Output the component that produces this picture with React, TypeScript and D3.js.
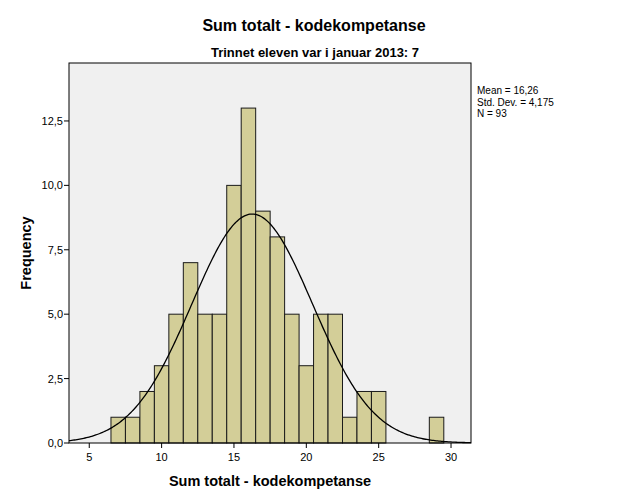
import React from "react";
import * as d3 from "d3";

const binCenters = [7, 8, 9, 10, 11, 12, 13, 14, 15, 16, 17, 18, 19, 20, 21, 22, 23, 24, 25, 29];
const binCounts = [1, 1, 2, 3, 5, 7, 5, 5, 10, 13, 9, 8, 5, 3, 5, 5, 1, 2, 2, 1];
const xTicks = [5, 10, 15, 20, 25, 30];
const yTicks = [0, 2.5, 5, 7.5, 10, 12.5];
const statLines = ["Mean = 16,26", "Std. Dev. = 4,175", "N = 93"];
const mean = 16.26;
const sd = 4.175;
const n = 93;
const binWidth = 1;

const W = 629;
const H = 504;
const left = 69;
const right = 471;
const top = 63;
const bottom = 443;
const font = "'Liberation Sans', Arial, sans-serif";

export default function App() {
  const x = d3.scaleLinear().domain([3.6, 31.38]).range([left, right]);
  const y = d3.scaleLinear().domain([0, 14.75]).range([bottom, top]);
  const fmt = (v: number) => v.toFixed(1).replace(".", ",");

  const curvePts: [number, number][] = [];
  const steps = 300;
  for (let i = 0; i <= steps; i++) {
    const xv = 3.6 + ((31.38 - 3.6) * i) / steps;
    const pdf = Math.exp(-0.5 * ((xv - mean) / sd) ** 2) / (sd * Math.sqrt(2 * Math.PI));
    curvePts.push([xv, n * binWidth * pdf]);
  }
  const line = d3
    .line<[number, number]>()
    .x((d) => x(d[0]))
    .y((d) => y(d[1]))
    .curve(d3.curveLinear);

  return (
    <svg width={W} height={H} style={{ position: "absolute", left: 0, top: 0, background: "#fff" }}>
      <rect x={0} y={0} width={W} height={H} fill="#fff" />
      <text x={314} y={31} textAnchor="middle" fontFamily={font} fontWeight="bold" fontSize={16} fill="#000">
        Sum totalt - kodekompetanse
      </text>
      <text x={315} y={57} textAnchor="middle" fontFamily={font} fontWeight="bold" fontSize={13} fill="#000">
        Trinnet eleven var i januar 2013: 7
      </text>
      <rect x={left} y={top} width={right - left} height={bottom - top} fill="#f0f0f0" />
      {binCenters.map((c, i) => (
        <rect
          key={i}
          x={x(c - binWidth / 2)}
          y={y(binCounts[i])}
          width={x(c + binWidth / 2) - x(c - binWidth / 2)}
          height={bottom - y(binCounts[i])}
          fill="#d3ce98"
          stroke="#1a1a1a"
          strokeWidth={1}
        />
      ))}
      <path d={line(curvePts) || ""} fill="none" stroke="#000" strokeWidth={1.3} />
      <rect x={left} y={top} width={right - left} height={bottom - top} fill="none" stroke="#000" strokeWidth={1} />
      {yTicks.map((t) => (
        <g key={t}>
          <line x1={left - 5} x2={left} y1={y(t)} y2={y(t)} stroke="#000" />
          <text x={left - 6} y={y(t) + 4} textAnchor="end" fontFamily={font} fontSize={11} fill="#000">
            {fmt(t)}
          </text>
        </g>
      ))}
      {xTicks.map((t) => (
        <g key={t}>
          <line x1={x(t)} x2={x(t)} y1={bottom} y2={bottom + 5} stroke="#000" />
          <text x={x(t)} y={bottom + 18} textAnchor="middle" fontFamily={font} fontSize={11} fill="#000">
            {t}
          </text>
        </g>
      ))}
      <text x={270} y={486} textAnchor="middle" fontFamily={font} fontWeight="bold" fontSize={14.5} fill="#000">
        Sum totalt - kodekompetanse
      </text>
      <text
        transform={`translate(31,253) rotate(-90)`}
        textAnchor="middle"
        fontFamily={font}
        fontWeight="bold"
        fontSize={14.5}
        fill="#000"
      >
        Frequency
      </text>
      {statLines.map((s, i) => (
        <text key={i} x={477} y={94 + i * 11.5} fontFamily={font} fontSize={10} fill="#000">
          {s}
        </text>
      ))}
    </svg>
  );
}
